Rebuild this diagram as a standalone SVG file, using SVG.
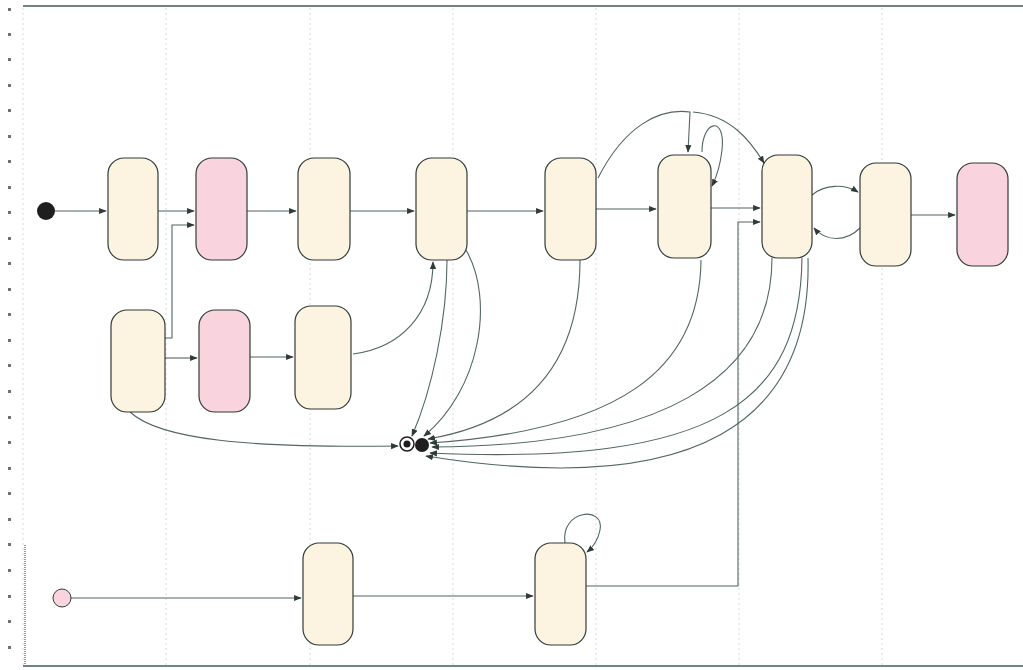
<svg xmlns="http://www.w3.org/2000/svg" width="1023" height="670" viewBox="0 0 1023 670">
<style>
.grid{stroke:#d6dcda;stroke-width:1;stroke-dasharray:2 3;fill:none}
.tick{fill:#6a7470}
.st{fill:#fcf4e0;stroke:#2f3b37;stroke-width:1.2}
.pk{fill:#f9d4df;stroke:#2f3b37;stroke-width:1.2}
.cn{fill:none;stroke:#51675f;stroke-width:1.1;marker-end:url(#ah)}
</style>
<defs>
<marker id="ah" viewBox="0 0 10 10" refX="9" refY="5" markerWidth="7" markerHeight="7" orient="auto-start-reverse">
<path d="M0,1 L10,5 L0,9 z" fill="#2f3b37"/>
</marker>
</defs>
<rect width="1023" height="670" fill="#ffffff"/>
<g id="frame">
<line x1="23" y1="6" x2="1023" y2="6" stroke="#6f8580" stroke-width="2"/>
<line x1="23" y1="666" x2="1023" y2="666" stroke="#6f8580" stroke-width="2"/>
<line class="grid" x1="23" y1="8" x2="23" y2="665"/>
<line class="grid" x1="166" y1="8" x2="166" y2="665"/>
<line class="grid" x1="310" y1="8" x2="310" y2="665"/>
<line class="grid" x1="453" y1="8" x2="453" y2="665"/>
<line class="grid" x1="596" y1="8" x2="596" y2="665"/>
<line class="grid" x1="739" y1="8" x2="739" y2="665"/>
<line class="grid" x1="882" y1="8" x2="882" y2="665"/>
<g class="tick">
<rect x="8" y="8" width="3" height="3"/><rect x="8" y="33" width="3" height="3"/><rect x="8" y="58" width="3" height="3"/><rect x="8" y="84" width="3" height="3"/><rect x="8" y="109" width="3" height="3"/><rect x="8" y="135" width="3" height="3"/><rect x="8" y="160" width="3" height="3"/><rect x="8" y="186" width="3" height="3"/><rect x="8" y="211" width="3" height="3"/><rect x="8" y="237" width="3" height="3"/><rect x="8" y="262" width="3" height="3"/><rect x="8" y="288" width="3" height="3"/><rect x="8" y="313" width="3" height="3"/><rect x="8" y="339" width="3" height="3"/><rect x="8" y="364" width="3" height="3"/><rect x="8" y="390" width="3" height="3"/><rect x="8" y="416" width="3" height="3"/><rect x="8" y="441" width="3" height="3"/><rect x="8" y="467" width="3" height="3"/><rect x="8" y="492" width="3" height="3"/><rect x="8" y="518" width="3" height="3"/><rect x="8" y="543" width="3" height="3"/><rect x="8" y="569" width="3" height="3"/><rect x="8" y="595" width="3" height="3"/><rect x="8" y="620" width="3" height="3"/><rect x="8" y="646" width="3" height="3"/>
</g>
<line x1="25" y1="545" x2="25" y2="665" stroke="#2f3b37" stroke-width="1" stroke-dasharray="1 1"/>
</g>
<g id="connectors">
<path class="cn" d="M55,211 H106"/>
<path class="cn" d="M158,211 H194"/>
<path class="cn" d="M165,338 H172 V225 H194"/>
<path class="cn" d="M247,211 H296"/>
<path class="cn" d="M350,211 H414"/>
<path class="cn" d="M467,211 H543"/>
<path class="cn" d="M596,209 H656"/>
<path class="cn" d="M711,208 H760"/>
<path class="cn" d="M586,586 H738 V222 H760"/>
<path class="cn" d="M812,195 C825,184 845,184 858,192"/>
<path class="cn" d="M860,228 C846,242 826,242 814,228"/>
<path class="cn" d="M911,215 H955"/>
<path class="cn" d="M165,358 H197"/>
<path class="cn" d="M250,357 H293"/>
<path class="cn" d="M353,354 C400,348 433,315 433,262"/>
<path class="cn" d="M447,260 C447,320 432,390 412,436"/>
<path class="cn" d="M466,250 C495,300 480,390 424,436"/>
<path class="cn" d="M580,260 C580,350 540,420 428,439"/>
<path class="cn" d="M701,260 C700,370 620,430 430,443"/>
<path class="cn" d="M772,258 C772,380 660,446 432,447"/>
<path class="cn" d="M802,258 C800,400 720,466 430,453"/>
<path class="cn" d="M808,258 C812,420 700,500 426,456"/>
<path class="cn" d="M130,412 C160,440 250,448 398,446"/>
<path class="cn" d="M598,178 C625,125 660,108 690,112 L688,152"/>
<path class="cn" d="M693,112 C730,115 750,140 764,163"/>
<path class="cn" d="M702,152 C702,120 726,115 722,150 C720,168 716,178 712,186"/>
<path class="cn" d="M71,598 H301"/>
<path class="cn" d="M353,596 H533"/>
<path class="cn" d="M565,543 C560,510 605,505 600,530 C598,540 592,548 587,552"/>
</g>
<g id="init"><circle cx="46" cy="211" r="9" fill="#1e1e1e"/></g>
<g id="n1"><rect class="st" x="108" y="158" width="50" height="102" rx="16"/></g>
<g id="n2"><rect class="pk" x="196" y="158" width="51" height="102" rx="16"/></g>
<g id="n3"><rect class="st" x="298" y="158" width="52" height="102" rx="16"/></g>
<g id="n4"><rect class="st" x="416" y="158" width="51" height="102" rx="16"/></g>
<g id="n5"><rect class="st" x="545" y="158" width="51" height="102" rx="16"/></g>
<g id="n6"><rect class="st" x="658" y="155" width="53" height="103" rx="16"/></g>
<g id="n7"><rect class="st" x="762" y="155" width="50" height="103" rx="16"/></g>
<g id="n8"><rect class="st" x="860" y="163" width="51" height="103" rx="16"/></g>
<g id="n9"><rect class="pk" x="957" y="163" width="51" height="103" rx="16"/></g>
<g id="m1"><rect class="st" x="111" y="310" width="54" height="102" rx="16"/></g>
<g id="m2"><rect class="pk" x="199" y="310" width="51" height="102" rx="16"/></g>
<g id="m3"><rect class="st" x="295" y="306" width="56" height="103" rx="16"/></g>
<g id="final">
<circle cx="407" cy="444" r="7" fill="#ffffff" stroke="#1e1e1e" stroke-width="1.5"/>
<circle cx="407" cy="444" r="3.5" fill="#1e1e1e"/>
<circle cx="422" cy="445" r="7" fill="#1e1e1e"/>
</g>
<g id="start2"><circle cx="62" cy="598" r="9" fill="#f9d4df" stroke="#2f3b37" stroke-width="1"/></g>
<g id="b1"><rect class="st" x="303" y="543" width="50" height="102" rx="16"/></g>
<g id="b2"><rect class="st" x="535" y="543" width="51" height="102" rx="16"/></g>
</svg>
